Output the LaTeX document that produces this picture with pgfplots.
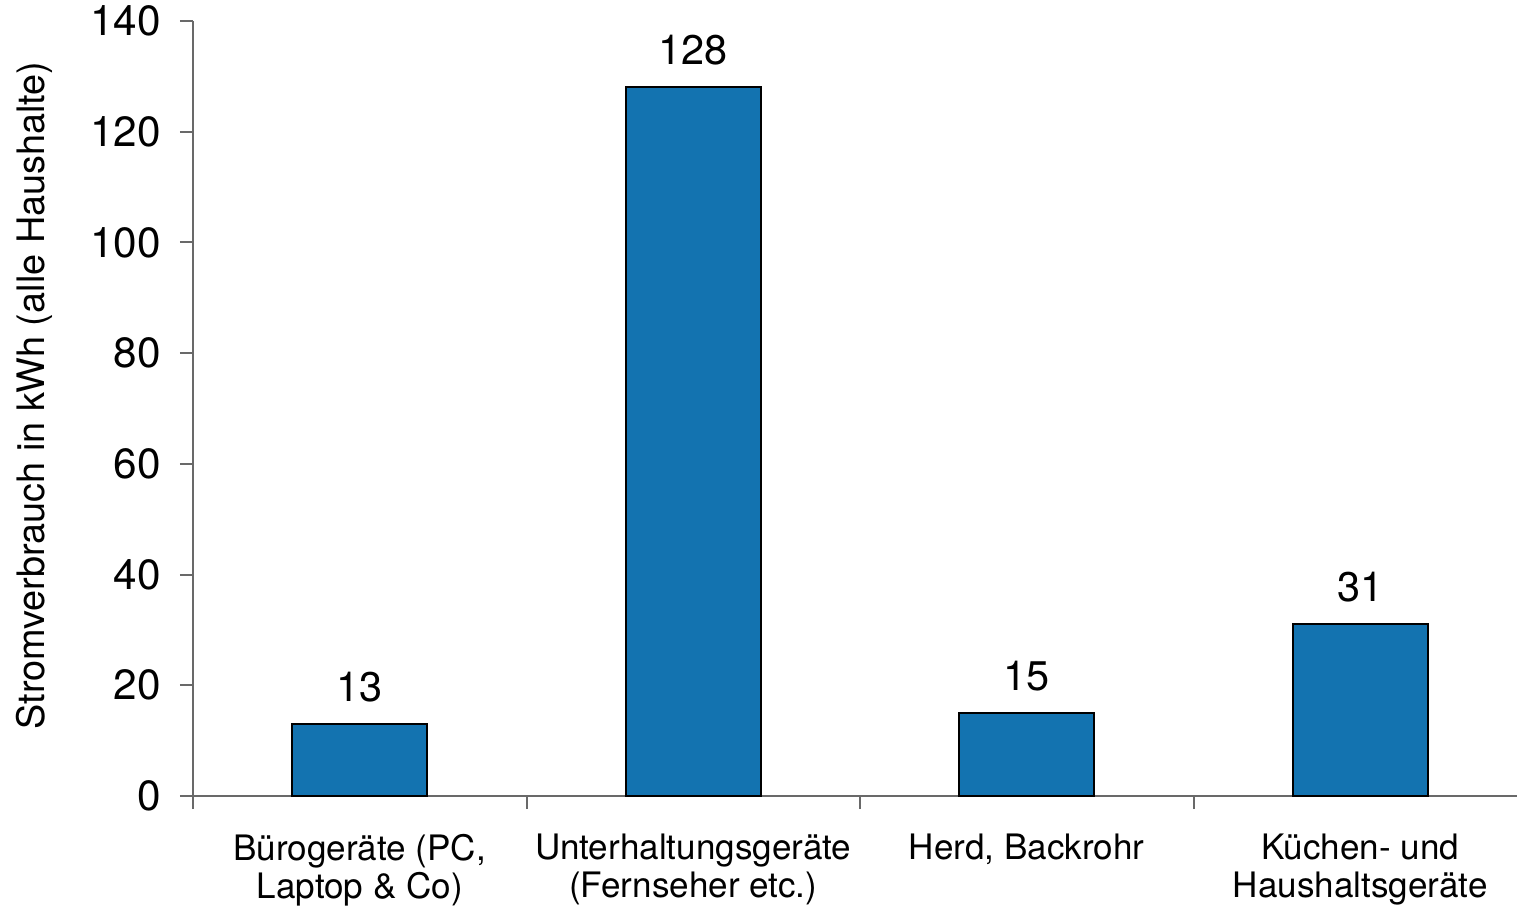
\documentclass[border=0pt]{standalone}
\usepackage{fontspec}
\setmainfont{TeX Gyre Heros}
\usepackage{pgfplots}
\pgfplotsset{compat=1.18}
\usetikzlibrary{calc}
\definecolor{barblue}{RGB}{19,115,176}
\definecolor{axgray}{RGB}{105,105,105}
\begin{document}
\begin{tikzpicture}
\begin{axis}[
  scale only axis,
  width=331bp, height=193.75bp,
  xmin=-0.5, xmax=3.47,
  ymin=0, ymax=140,
  ytick={0,20,...,140},
  axis x line=bottom, axis y line=left,
  axis line style={-, draw=axgray, line width=0.5bp},
  tick align=outside,
  major tick length=3.25bp,
  tick style={draw=axgray, line width=0.5bp},
  xtick={-0.5,0.5,1.5,2.5},
  xticklabels={},
  extra x ticks={0,1,2,3},
  extra x tick labels={{Bürogeräte (PC,\\Laptop \& Co)},{Unterhaltungsgeräte\\(Fernseher etc.)},{Herd, Backrohr},{Küchen- und\\Haushaltsgeräte}},
  extra x tick style={major tick length=0pt, tick style={draw=none}},
  xticklabel style={font=\fontsize{8.8}{9.5}\selectfont, align=center, anchor=north, yshift=-6bp},
  yticklabel style={font=\fontsize{10.6}{12}\selectfont, anchor=east, xshift=-1.25bp},
  /pgf/number format/assume math mode=true,
  ylabel={Stromverbrauch in kWh (alle Haushalte)},
  ylabel style={font=\fontsize{9.5}{11}\selectfont, at={($(axis description cs:0,0.5)+(-39.75bp,3.25bp)$)}, anchor=center},
  ybar, bar width=33.75bp,
  nodes near coords,
  every node near coord/.append style={font=\fontsize{10.4}{12}\selectfont, text=black, yshift=2bp},
  clip=false,
]
\addplot[fill=barblue, draw=black, line width=0.5bp] coordinates {(0,13) (1,128) (2,15) (3,31)};
\coordinate (O) at (rel axis cs:0,0);
\coordinate (T) at (rel axis cs:1,1);
\end{axis}
\pgfresetboundingbox
\path[use as bounding box] ($(O)+(-48.25bp,-28.25bp)$) rectangle ($(T)+(0bp,5.25bp)$);
\end{tikzpicture}
\end{document}
